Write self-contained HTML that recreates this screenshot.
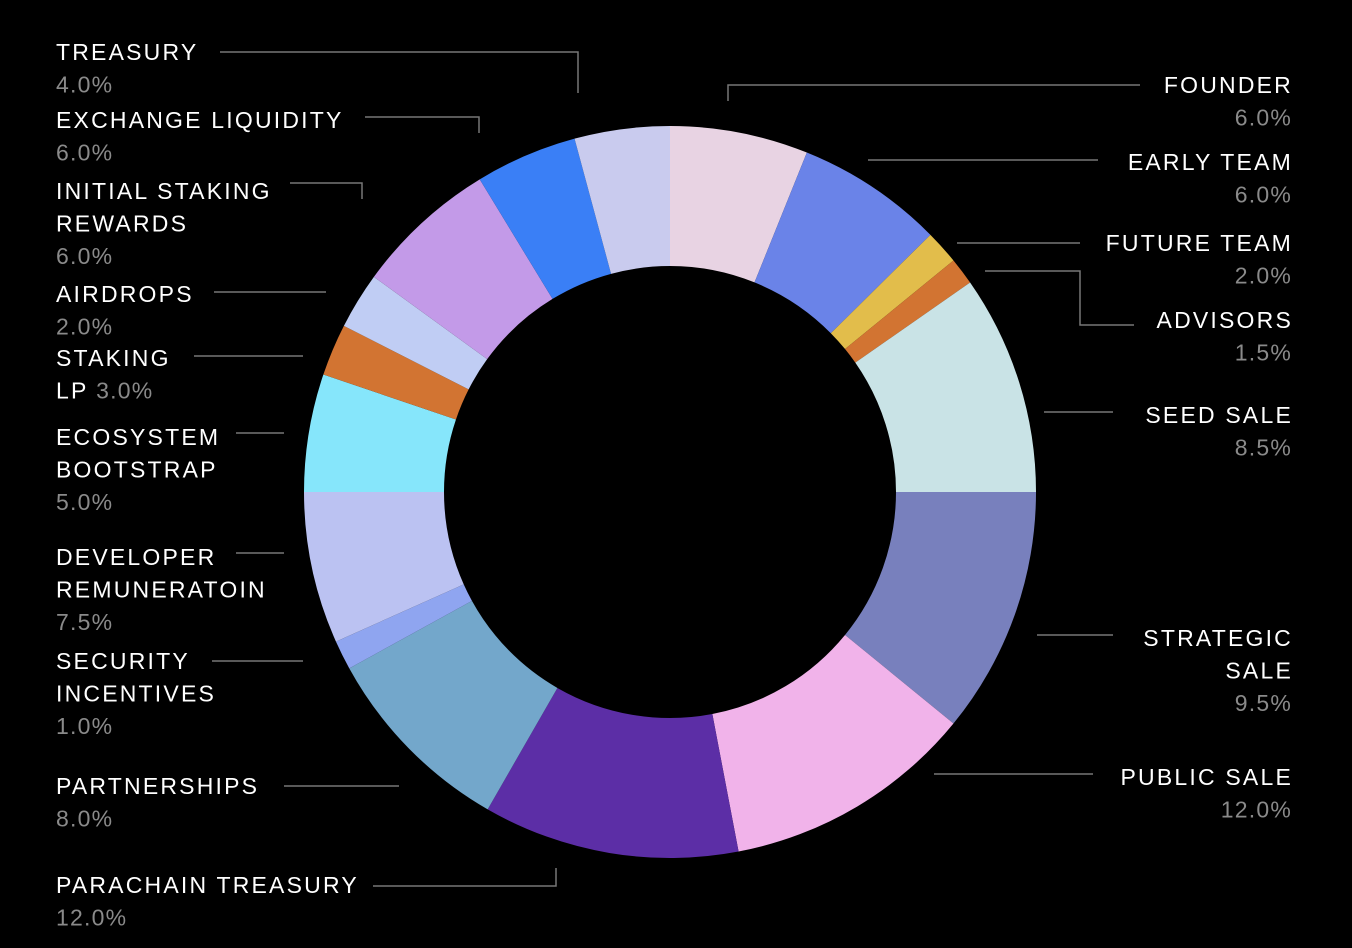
<!DOCTYPE html>
<html><head><meta charset="utf-8"><style>
html,body{margin:0;padding:0;background:#000;}
svg{display:block;}
text{font-family:"Liberation Sans",sans-serif;font-size:23px;}
.lbl{fill:#fff;letter-spacing:2.2px;}
.pct{fill:#8a8a8a;letter-spacing:1.2px;}
.ld{stroke:#777;stroke-width:1.5;fill:none;}
</style></head><body>
<svg id="chart" width="1352" height="948" viewBox="0 0 1352 948">
<g id="slices"></g>
<g id="leaders"></g>
<g id="labels"></g>
</svg>
<script>
const categories = ["FOUNDER","EARLY TEAM","FUTURE TEAM","ADVISORS","SEED SALE","STRATEGIC SALE","PUBLIC SALE","PARACHAIN TREASURY","PARTNERSHIPS","SECURITY INCENTIVES","DEVELOPER REMUNERATOIN","ECOSYSTEM BOOTSTRAP","STAKING LP","AIRDROPS","INITIAL STAKING REWARDS","EXCHANGE LIQUIDITY","TREASURY"];
// printed percentages
const percents = [6,6,2,1.5,8.5,9.5,12,12,8,1,7.5,5,3,2,6,6,4];
// slice weights as drawn in the picture (visual shares)
const values = [6.1,6.5,1.5,1.2,9.7,10.9,11.1,11.3,8.7,1.3,6.7,5.2,2.3,2.5,6.3,4.5,4.2];
const colors = ["#e8d3e3","#6a83e8","#e2bd4b","#d27432","#c9e3e6","#7880bd","#f1b3ea","#5c2ea6","#73a7cb","#8fa5f0","#bbc2f2","#86e6fb","#d27432","#c0cdf4","#c39ae8","#3a7ff6","#c9cbee"];
const layout = [
 {side:"r",lines:["FOUNDER"],y:85,lead:[[1140,85],[728,85],[728,101]]},
 {side:"r",lines:["EARLY TEAM"],y:162,lead:[[1098,160],[868,160]]},
 {side:"r",lines:["FUTURE TEAM"],y:243,lead:[[1080,243],[957,243]]},
 {side:"r",lines:["ADVISORS"],y:320,lead:[[1134,325],[1080,325],[1080,271],[985,271]]},
 {side:"r",lines:["SEED SALE"],y:415,lead:[[1113,412],[1044,412]]},
 {side:"r",lines:["STRATEGIC","SALE"],y:638,lead:[[1113,635],[1037,635]]},
 {side:"r",lines:["PUBLIC SALE"],y:777,lead:[[1093,774],[934,774]]},
 {side:"l",lines:["PARACHAIN TREASURY"],y:885,lead:[[373,886],[556,886],[556,868]]},
 {side:"l",lines:["PARTNERSHIPS"],y:786,lead:[[284,786],[399,786]]},
 {side:"l",lines:["SECURITY","INCENTIVES"],y:661,lead:[[212,661],[303,661]]},
 {side:"l",lines:["DEVELOPER","REMUNERATOIN"],y:557,lead:[[236,553],[284,553]]},
 {side:"l",lines:["ECOSYSTEM","BOOTSTRAP"],y:437,lead:[[236,433],[284,433]]},
 {side:"l",lines:["STAKING","LP"],y:358,inline:true,lead:[[194,356],[303,356]]},
 {side:"l",lines:["AIRDROPS"],y:294,lead:[[214,292],[326,292]]},
 {side:"l",lines:["INITIAL STAKING","REWARDS"],y:191,lead:[[290,183],[362,183],[362,199]]},
 {side:"l",lines:["EXCHANGE LIQUIDITY"],y:120,lead:[[365,117],[479,117],[479,133]]},
 {side:"l",lines:["TREASURY"],y:52,lead:[[220,52],[578,52],[578,93]]}
];
const NS="http://www.w3.org/2000/svg";
const cx=670, cy=492, R=366, r=226, LH=32.5;
const total=values.reduce((a,b)=>a+b,0);
function pt(a,rad){return [cx+rad*Math.sin(a), cy-rad*Math.cos(a)];}
let acc=0;
const gS=document.getElementById("slices"), gL=document.getElementById("leaders"), gT=document.getElementById("labels");
values.forEach((v,i)=>{
  const a0=acc/total*2*Math.PI; acc+=v; const a1=acc/total*2*Math.PI;
  const big=(a1-a0)>Math.PI?1:0;
  const p0=pt(a0,R),p1=pt(a1,R),q1=pt(a1,r),q0=pt(a0,r);
  const p=document.createElementNS(NS,"path");
  p.setAttribute("d",`M${p0} A${R},${R} 0 ${big} 1 ${p1} L${q1} A${r},${r} 0 ${big} 0 ${q0} Z`);
  p.setAttribute("fill",colors[i]);
  
  
  gS.appendChild(p);
  const L=layout[i];
  const pl=document.createElementNS(NS,"polyline");
  pl.setAttribute("points",L.lead.map(q=>q.join(",")).join(" "));
  pl.setAttribute("class","ld");
  
  
  gL.appendChild(pl);
  const x=L.side==="l"?56:1293, anc=L.side==="l"?"start":"end";
  const pctStr=(Math.round(percents[i]*10)/10).toFixed(1)+"%";
  L.lines.forEach((ln,k)=>{
    const t=document.createElementNS(NS,"text");
    t.setAttribute("x",x);t.setAttribute("y",L.y+k*LH+8);
    t.setAttribute("text-anchor",anc);t.setAttribute("class","lbl");
    t.textContent=ln;
    if(L.inline && k===L.lines.length-1){
      const s=document.createElementNS(NS,"tspan");
      s.setAttribute("class","pct");s.textContent=" "+pctStr;t.appendChild(s);
    }
    
    
    gT.appendChild(t);
  });
  if(!L.inline){
    const t=document.createElementNS(NS,"text");
    t.setAttribute("x",L.side==="l"?56:1292);t.setAttribute("y",L.y+L.lines.length*LH+8);
    t.setAttribute("text-anchor",anc);t.setAttribute("class","pct");
    t.textContent=pctStr;
    
    
    gT.appendChild(t);
  }
});
</script>
</body></html>
